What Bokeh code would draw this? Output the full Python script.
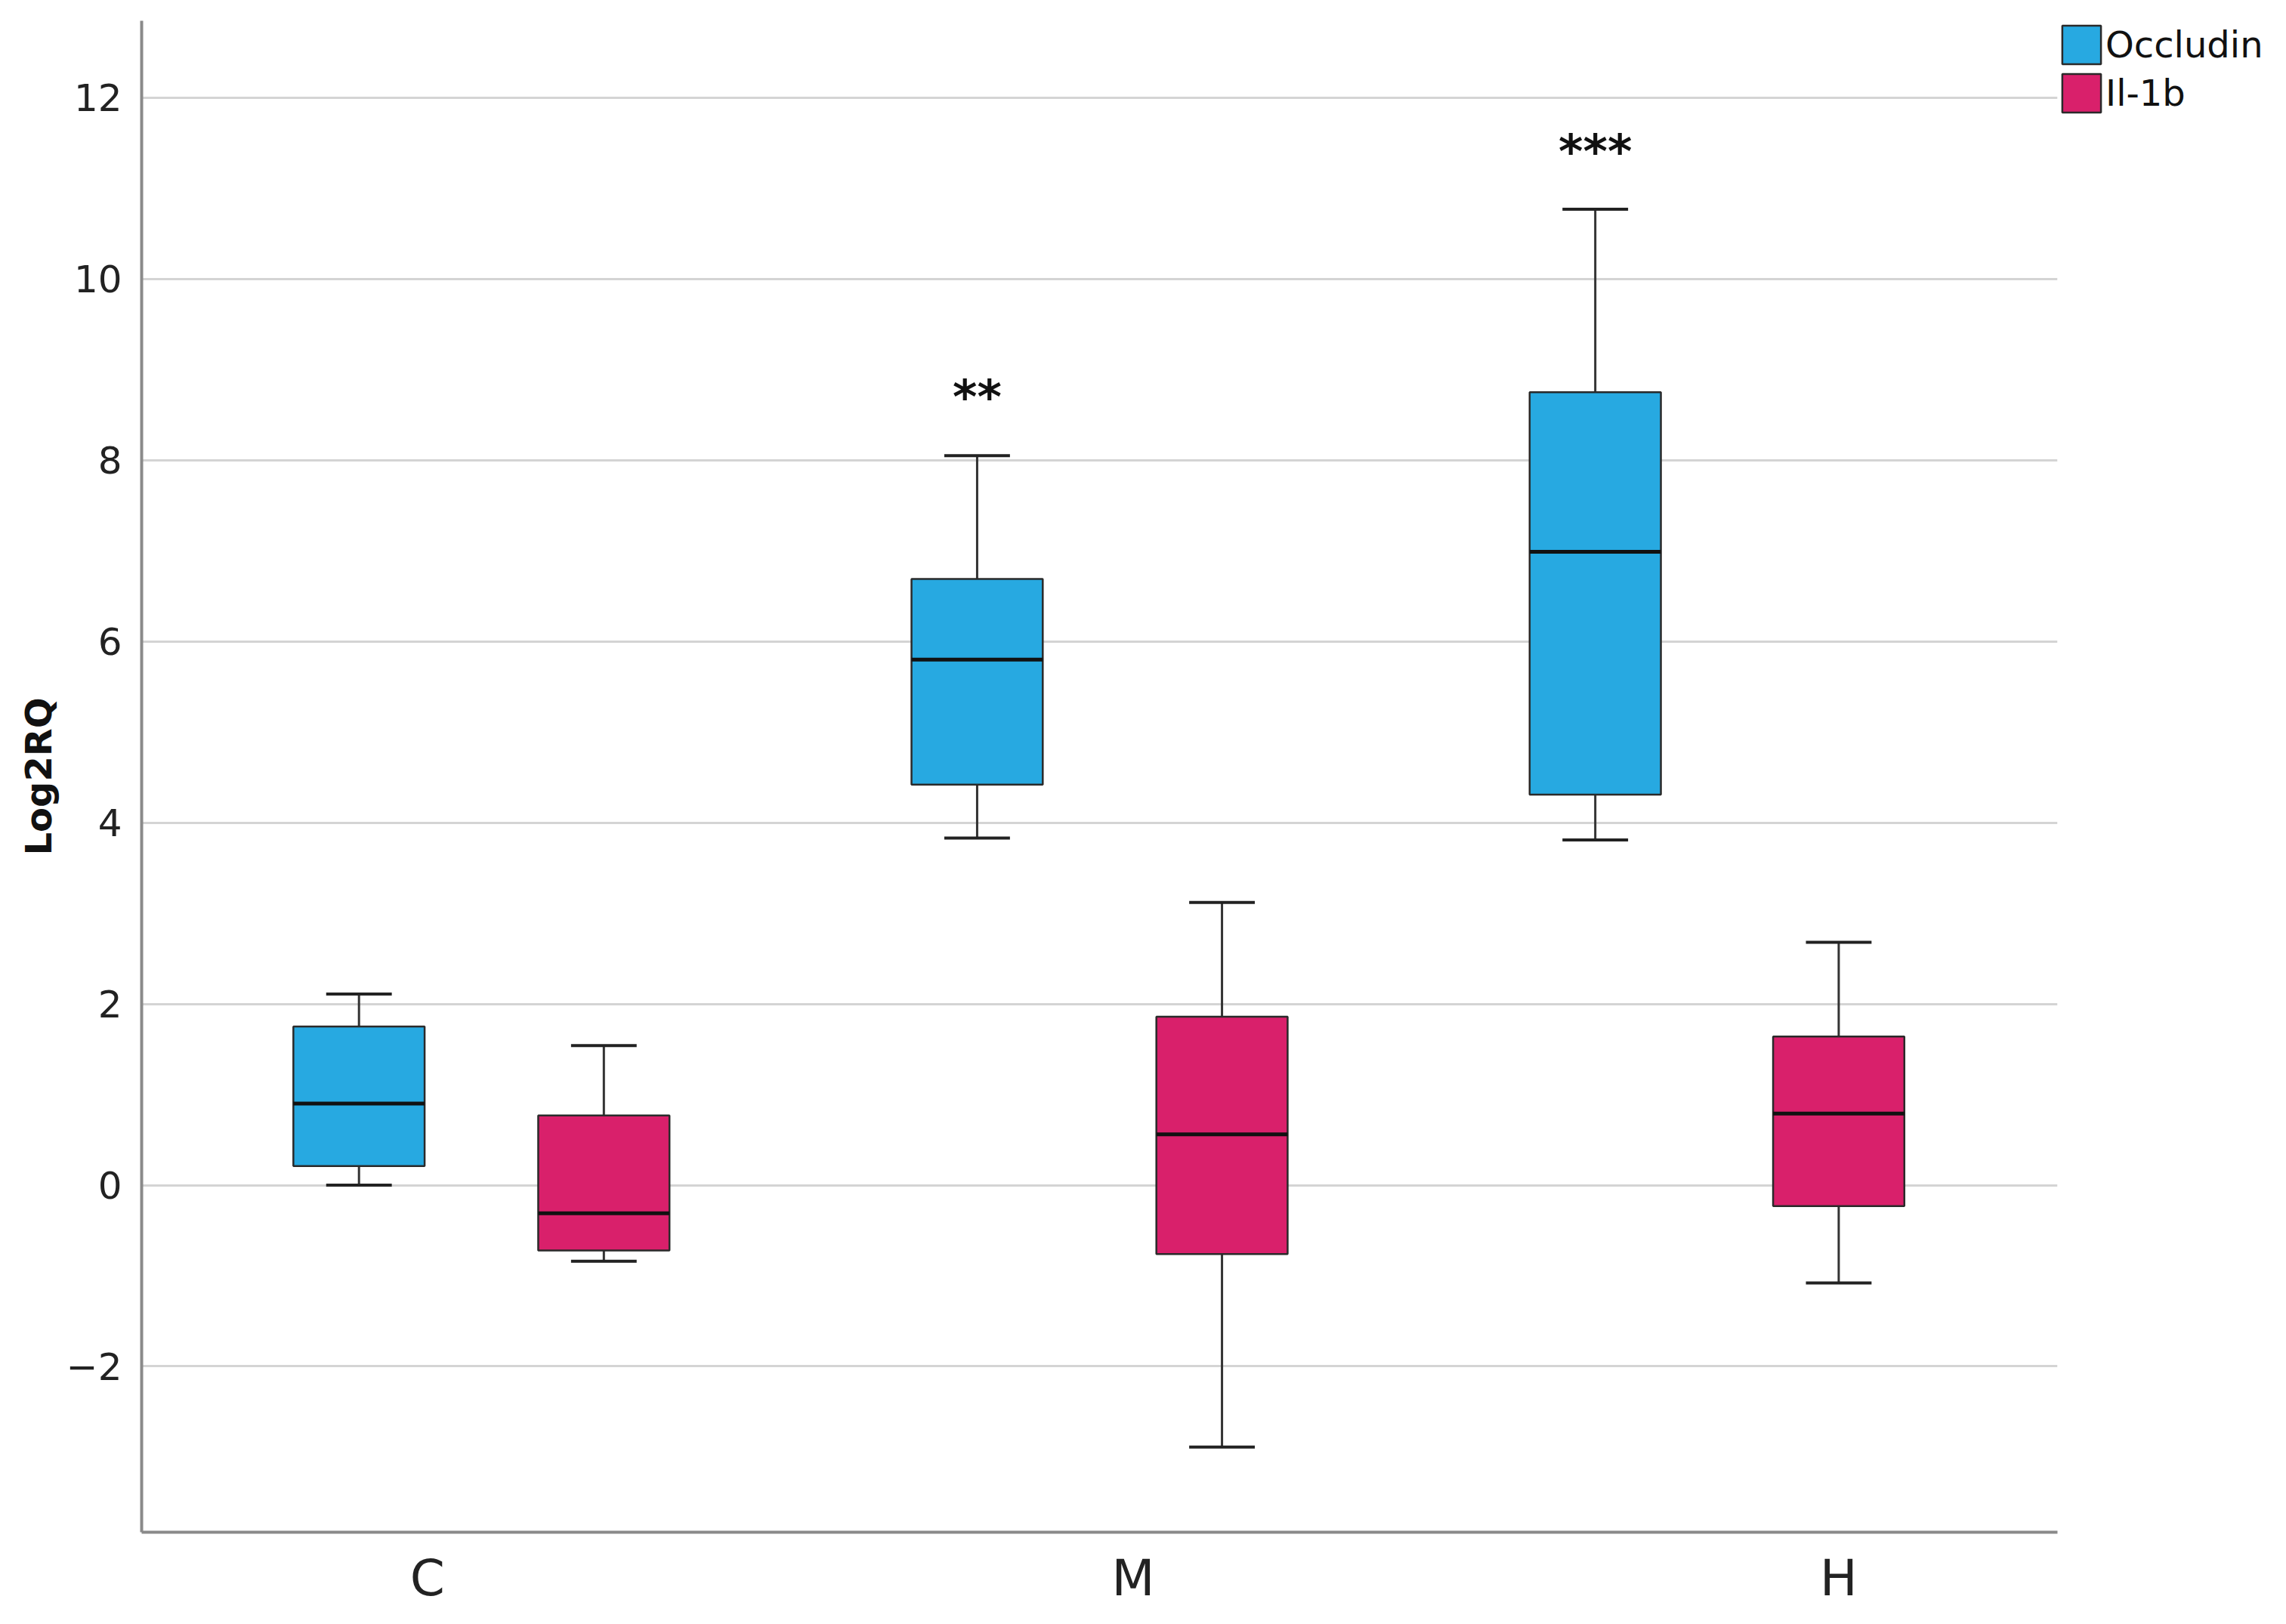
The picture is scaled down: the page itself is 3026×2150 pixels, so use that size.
from bokeh.plotting import figure
from bokeh.models import Range1d, FixedTicker, Legend, LegendItem, ColumnDataSource
from bokeh.core.properties import value
from bokeh.embed import file_html
from bokeh.resources import INLINE

# ---- data ----
groups = ["C", "M", "H"]
occ_low = [0.00, 3.83, 3.81]
occ_q1 = [0.21, 4.42, 4.31]
occ_med = [0.90, 5.80, 6.99]
occ_q3 = [1.75, 6.69, 8.75]
occ_high = [2.11, 8.05, 10.77]

il_low = [-0.84, -2.89, -1.08]
il_q1 = [-0.72, -0.76, -0.23]
il_med = [-0.31, 0.56, 0.79]
il_q3 = [0.77, 1.86, 1.64]
il_high = [1.54, 3.12, 2.68]

sig_labels = ["", "**", "***"]
sig_y = [0.0, 8.70, 11.41]

y_ticks = [-2, 0, 2, 4, 6, 8, 10, 12]

# ---- layout constants ----
occ_offset = [-0.097, -0.221, -0.345]
il_offset = [0.25, 0.126, 0.0]
BOX_W = 0.186
CAP_W = BOX_W / 2
OCC_COLOR = "#27A9E1"
IL_COLOR = "#D9206B"
FONT = "DejaVu Sans"

p = figure(
    output_backend="svg", toolbar_location=None,
    frame_width=2536, frame_height=2001,
    min_border_left=187, min_border_top=27, min_border_right=0, min_border_bottom=100,
    x_range=Range1d(-0.405, 2.31), y_range=Range1d(-3.83, 12.85),
)
p.outline_line_color = None
p.background_fill_color = "white"
p.xgrid.grid_line_color = None
p.ygrid.grid_line_color = "#d4d4d4"
p.ygrid.grid_line_width = 3

p.yaxis.ticker = FixedTicker(ticks=y_ticks)
p.xaxis.ticker = FixedTicker(ticks=[0, 1, 2])
p.xaxis.major_label_overrides = {i: g for i, g in enumerate(groups)}
p.yaxis.major_label_overrides = {t: (str(t).replace("-", "\u2212")) for t in y_ticks}

for ax in (p.xaxis[0], p.yaxis[0]):
    ax.axis_line_color = "#8a8a8a"
    ax.axis_line_width = 4
    ax.major_tick_line_color = None
    ax.minor_tick_line_color = None
    ax.major_label_text_font = FONT
    ax.major_label_text_color = "#222222"

p.yaxis.major_label_text_font_size = "50px"
p.yaxis.major_label_standoff = 20
p.xaxis.major_label_text_font_size = "66px"
p.xaxis.major_label_standoff = 16
p.yaxis.axis_label = "Log2RQ"
p.yaxis.axis_label_text_font = FONT
p.yaxis.axis_label_text_font_size = "48px"
p.yaxis.axis_label_text_font_style = "bold"
p.yaxis.axis_label_text_color = "#111111"
p.yaxis.axis_label_standoff = 6


def draw(offsets, low, q1, med, q3, high, color):
    xs = [i + o for i, o in enumerate(offsets)]
    src = ColumnDataSource(dict(x=xs, low=low, q1=q1, med=med, q3=q3, high=high,
                                cl=[x - CAP_W / 2 for x in xs], cr=[x + CAP_W / 2 for x in xs],
                                bl=[x - BOX_W / 2 for x in xs], br=[x + BOX_W / 2 for x in xs]))
    p.segment(x0="x", y0="q3", x1="x", y1="high", source=src, line_color="#333333", line_width=3)
    p.segment(x0="x", y0="low", x1="x", y1="q1", source=src, line_color="#333333", line_width=3)
    p.segment(x0="cl", y0="high", x1="cr", y1="high", source=src, line_color="#222222", line_width=4)
    p.segment(x0="cl", y0="low", x1="cr", y1="low", source=src, line_color="#222222", line_width=4)
    r = p.vbar(x="x", bottom="q1", top="q3", width=BOX_W, source=src,
               fill_color=color, line_color="#2a2a2a", line_width=2.5)
    p.segment(x0="bl", y0="med", x1="br", y1="med", source=src, line_color="#111111", line_width=5)
    return r, xs


r_occ, occ_xs = draw(occ_offset, occ_low, occ_q1, occ_med, occ_q3, occ_high, OCC_COLOR)
r_il, il_xs = draw(il_offset, il_low, il_q1, il_med, il_q3, il_high, IL_COLOR)

sig_src = ColumnDataSource(dict(x=occ_xs, y=sig_y, t=sig_labels))
p.text(x="x", y="y", text="t", source=sig_src, text_align="center", text_baseline="middle",
       text_font=value(FONT), text_font_size="62px", text_font_style="bold", text_color="#111111")

legend = Legend(items=[LegendItem(label="Occludin", renderers=[r_occ]),
                       LegendItem(label="Il-1b", renderers=[r_il])],
                location="top_left", orientation="vertical")
legend.border_line_color = None
legend.background_fill_alpha = 0
legend.glyph_width = 64
legend.glyph_height = 64
legend.label_text_font = FONT
legend.label_text_font_size = "48px"
legend.label_text_color = "#111111"
legend.label_standoff = 0
legend.spacing = -4
legend.padding = 0
legend.margin = 0
legend.label_height = 50
p.add_layout(legend, "right")

open("out.html", "w").write(file_html(p, INLINE))
